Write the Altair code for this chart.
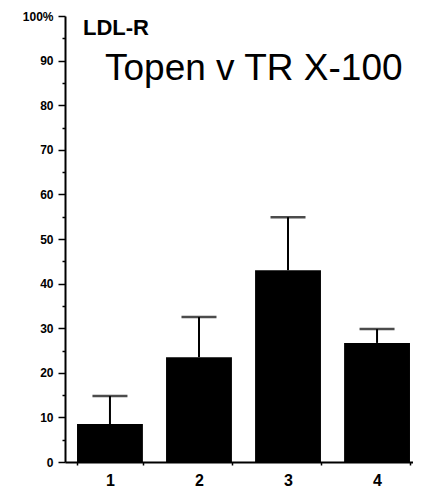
import altair as alt
import pandas as pd

groups = ["1", "2", "3", "4"]
means = [8.5, 23.5, 43.0, 26.7]
upper = [14.8, 32.5, 54.9, 29.8]
y_major = [0, 10, 20, 30, 40, 50, 60, 70, 80, 90, 100]
y_minor = [5, 15, 25, 35, 45, 55, 65, 75, 85, 95]
panel_label = ["LDL-R"]
subtitle = ["Topen v TR X-100"]

df = pd.DataFrame({"group": groups, "mean": means, "upper": upper})

FONT = "Liberation Sans, Arial, Helvetica, sans-serif"

xscale = alt.Scale(domain=groups, range=[0, 357], paddingInner=0.26, paddingOuter=0.135)
yscale = alt.Scale(domain=[0, 100], nice=False, zero=True)

xaxis = alt.Axis(title=None, labelAngle=0, labelFont=FONT, labelFontSize=16,
                 labelFontWeight="bold", labelColor="black", tickBand="extent",
                 tickSize=3, tickColor="black", tickWidth=1.5, domainColor="black",
                 domainWidth=2, labelPadding=7)

base = alt.Chart(df)

bars = base.mark_bar(color="black").encode(
    x=alt.X("group:N", scale=xscale, sort=groups, axis=xaxis),
    y=alt.Y("mean:Q", scale=yscale,
            axis=alt.Axis(title=None, values=y_major, orient="left",
                          labelExpr="datum.value == 100 ? '100%' : datum.label",
                          labelFont=FONT, labelFontSize=12, labelFontWeight="bold",
                          labelColor="black", tickSize=7, tickWidth=1.5, tickColor="black",
                          domainColor="black", domainWidth=2, labelPadding=5, grid=False)),
)

stems = base.mark_rule(color="black", strokeWidth=2).encode(
    x=alt.X("group:N", scale=xscale, sort=groups, axis=xaxis),
    y=alt.Y("mean:Q", scale=yscale, axis=None),
    y2="upper:Q",
)

caps = base.mark_tick(color="black", thickness=2.5, size=35).encode(
    x=alt.X("group:N", scale=xscale, sort=groups, axis=xaxis),
    y=alt.Y("upper:Q", scale=yscale, axis=None),
)

minor = base.mark_point(opacity=0).encode(
    y=alt.Y("upper:Q", scale=yscale,
            axis=alt.Axis(title=None, values=y_minor, orient="left", labels=False,
                          domain=False, tickSize=3, tickWidth=1.5, tickColor="black", grid=False)),
)

lbl = alt.Chart(pd.DataFrame({"t": panel_label})).mark_text(
    font=FONT, fontSize=22, fontWeight="bold", align="left", baseline="alphabetic", color="black"
).encode(text="t:N", x=alt.value(18), y=alt.value(19))

sub = alt.Chart(pd.DataFrame({"t": subtitle})).mark_text(
    font=FONT, fontSize=37, align="left", baseline="alphabetic", color="black"
).encode(text="t:N", x=alt.value(40), y=alt.value(64))

chart = alt.layer(bars, stems, caps, minor, lbl, sub).resolve_axis(y="independent").properties(
    width=348,
    height=446,
    autosize=alt.AutoSizeParams(type="none"),
    padding={"left": 57, "top": 8, "right": 0, "bottom": 26},
).configure_view(stroke=None)

chart.save("out.html", embed_options={"renderer": "svg", "actions": False})
